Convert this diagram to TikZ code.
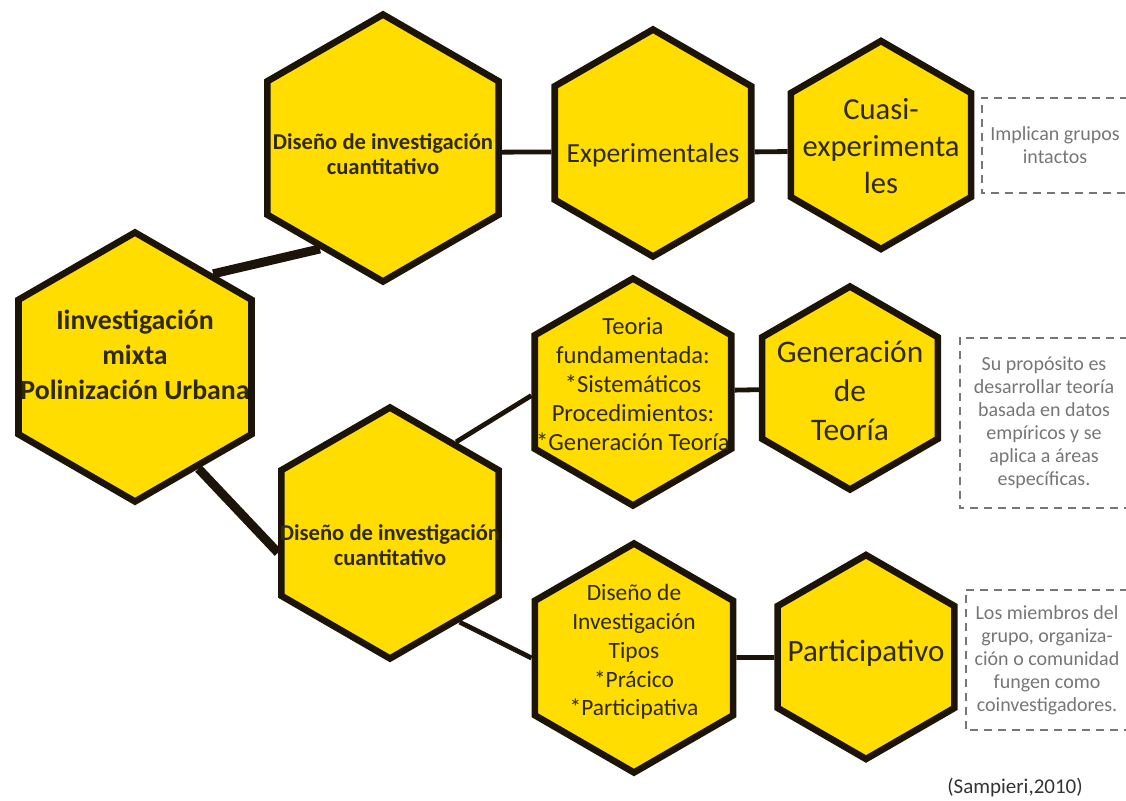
\documentclass[tikz,border=0pt]{standalone}
\usepackage{fontspec}
\setmainfont{Carlito}
\usetikzlibrary{shapes.geometric}

\definecolor{hexyellow}{RGB}{255,221,0}
\definecolor{hexborder}{RGB}{28,20,8}
\definecolor{hexink}{RGB}{48,42,4}
\definecolor{notegray}{RGB}{118,118,118}

\begin{document}
\begin{tikzpicture}[x=0.5pt, y=-0.5pt,
  hexa/.style={regular polygon, regular polygon sides=6, shape border rotate=30,
    fill=hexyellow, draw=hexborder, line width=3.3pt, inner sep=0pt,
    minimum size={(#1-6)*0.5pt}},
  htxt/.style={text=hexink, align=center, inner sep=0pt},
  nota/.style 2 args={minimum width={#1*0.5pt}, minimum height={#2*0.5pt},
    inner sep=0pt, align=center, text=notegray,
    font=\fontsize{10}{11.5}\selectfont},
  notaline/.style={draw=notegray, line width=1pt, dash pattern=on 4pt off 3pt},
  grueso/.style={draw=hexborder, line width=4.5pt},
  fino/.style={draw=hexborder, line width=2.4pt}
]
\useasboundingbox (0,0) rectangle (1126,800);

%% hexagons
\node[hexa=275] (root)    at (135,367) {};
\node[hexa=273] (disenoA) at (383,148) {};
\node[hexa=233] (exper)   at (653,143) {};
\node[hexa=214] (cuasi)   at (881,145) {};
\node[hexa=233] (teoria)  at (633,392) {};
\node[hexa=209] (genera)  at (850,388) {};
\node[hexa=257] (disenoB) at (390,533) {};
\node[hexa=235] (tipos)   at (634,658) {};
\node[hexa=210] (partic)  at (866,657) {};

%% texts in the hexagons
\node[htxt, font=\bfseries\fontsize{13.9}{17.5}\selectfont] (root-t) at (135,355)
  {Iinvestigación\\mixta\\Polinización Urbana};
\node[htxt, font=\bfseries\fontsize{11.3}{12.5}\selectfont] (disenoA-t) at (383,154)
  {Diseño de investigación\\cuantitativo};
\node[htxt, font=\fontsize{13.8}{16}\selectfont] (exper-t) at (653,155) {Experimentales};
\node[htxt, font=\fontsize{15.3}{18.5}\selectfont] (cuasi-t) at (881,146)
  {Cuasi-\\experimenta\\les};
\node[htxt, font=\fontsize{12.3}{14.5}\selectfont] (teoria-t) at (633,384)
  {Teoria\\fundamentada:\\*Sistemáticos\\Procedimientos:\\*Generación Teoría};
\node[htxt, font=\fontsize{15.7}{19.5}\selectfont] (genera-t) at (850,391)
  {Generación\\de\\Teoría};
\node[htxt, font=\bfseries\fontsize{11.3}{12.5}\selectfont] (disenoB-t) at (390,545)
  {Diseño de investigación\\cuantitativo};
\node[htxt, font=\fontsize{11.7}{14.4}\selectfont] (tipos-t) at (634,652)
  {Diseño de\\Investigación\\Tipos\\*Prácico\\*Participativa};
\node[htxt, font=\fontsize{15.5}{18}\selectfont] (partic-t) at (866,653) {Participativo};

%% connectors
\draw[grueso] (root.50)    -- (disenoA.238);
\draw[grueso] (root.302)   -- (disenoB.190);
\draw[fino]   (disenoA.-2) -- (exper.185);
\draw[fino]   (exper.-5)   -- (cuasi.184);
\draw[fino]   (disenoB.54) -- (teoria.182);
\draw[fino]   (teoria)     -- (genera);
\draw[fino]   (disenoB.308) -- (tipos.180);
\draw[fino]   (tipos)      -- (partic);

%% notes (open to the right)
\node[nota={146}{95}]  (notaA) at (1055,145.5) {Implican grupos\\intactos};
\node[nota={168}{170}] (notaB) at (1044,423)
  {Su propósito es\\desarrollar teoría\\basada en datos\\empíricos y se\\aplica a áreas\\específicas.};
\node[nota={162}{140}] (notaC) at (1047,660)
  {Los miembros del\\grupo, organiza-\\ción o comunidad\\fungen como\\coinvestigadores.};
\foreach \n in {notaA,notaB,notaC}
  \draw[notaline] (\n.north east) -- (\n.north west) -- (\n.south west) -- (\n.south east);

\node[text=black!80, font=\fontsize{10.5}{12}\selectfont, inner sep=0pt] (fuente) at (1015,787)
  {(Sampieri,2010)};
\end{tikzpicture}
\end{document}
